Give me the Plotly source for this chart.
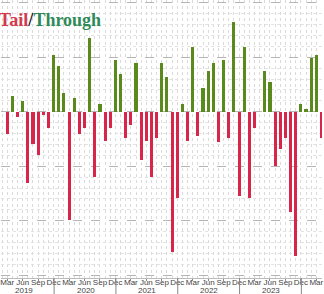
import plotly.graph_objects as go

# Monthly auction tail(-)/through(+) values, Mar 2019 .. Apr 2024
months = ["Mar 2019","Apr 2019","May 2019","Jun 2019","Jul 2019","Aug 2019","Sep 2019","Oct 2019","Nov 2019","Dec 2019",
          "Jan 2020","Feb 2020","Mar 2020","Apr 2020","May 2020","Jun 2020","Jul 2020","Aug 2020","Sep 2020","Oct 2020","Nov 2020","Dec 2020",
          "Jan 2021","Feb 2021","Mar 2021","Apr 2021","May 2021","Jun 2021","Jul 2021","Aug 2021","Sep 2021","Oct 2021","Nov 2021","Dec 2021",
          "Jan 2022","Feb 2022","Mar 2022","Apr 2022","May 2022","Jun 2022","Jul 2022","Aug 2022","Sep 2022","Oct 2022","Nov 2022","Dec 2022",
          "Jan 2023","Feb 2023","Mar 2023","Apr 2023","May 2023","Jun 2023","Jul 2023","Aug 2023","Sep 2023","Oct 2023","Nov 2023","Dec 2023",
          "Jan 2024","Feb 2024","Mar 2024","Apr 2024"]
values = [-0.40, 0.29, -0.09, 0.20, -1.30, -0.59, -0.79, -0.06, -0.29, 1.04,
          0.84, 0.35, -1.99, 0.25, -0.40, -0.29, 1.35, -1.19, 0.14, -0.54, -0.29, 0.95,
          0.70, -0.49, -0.24, 0.90, -0.89, -0.54, -1.19, -0.49, 0.90, 0.64, -2.58, -1.59,
          0.14, -0.54, 1.19, -0.44, 0.44, 0.75, 0.90, -0.55, 0.95, -0.49, 1.65, -1.54,
          1.19, -1.59, -0.29, 0.0, 0.75, 0.55, -0.99, -0.69, -0.49, -1.83, -2.64, 0.14,
          0.05, 0.99, 1.05, -0.49]
years = ["2019", "2020", "2021", "2022", "2023"]

idx = list(range(len(months)))
tick_idx = [i for i, m in enumerate(months) if m.split()[0] in ("Mar", "Jun", "Sep", "Dec")]
tick_txt = [months[i].split()[0] for i in tick_idx]
dec_idx = [i for i, m in enumerate(months) if m.startswith("Dec")]
jun_idx = [i for i, m in enumerate(months) if m.startswith("Jun")]

GREEN = "#5a8a1c"
RED = "#d8264a"
colors = [GREEN if v >= 0 else RED for v in values]

fig = go.Figure(go.Bar(x=idx, y=values, marker_color=colors, marker_line_width=0, width=0.6))

shapes = []
for d in dec_idx:
    shapes.append(dict(type="line", xref="x", yref="paper", x0=d + 0.1, x1=d + 0.1, y0=0, y1=-0.06,
                       line=dict(color="#888888", width=1)))

annotations = [dict(xref="paper", yref="paper", x=0, y=1, xanchor="left", yanchor="top", xshift=-4, yshift=-8,
                    showarrow=False,
                    text="<b><span style='color:#d23a4e'>Tail</span><span style='color:#111111'>/</span>"
                         "<span style='color:#2f8a5a'>Through</span></b>",
                    font=dict(family="Liberation Serif", size=18))]
for y, j in zip(years, jun_idx):
    annotations.append(dict(xref="x", yref="paper", x=j + 0.2, y=0, yanchor="middle", yshift=-12,
                            showarrow=False,
                            text=y, font=dict(family="Liberation Sans", size=8, color="#444444")))

fig.update_layout(
    width=324, height=294,
    margin=dict(l=0, r=0, t=0, b=16),
    paper_bgcolor="white", plot_bgcolor="white",
    showlegend=False, bargap=0,
    shapes=shapes, annotations=annotations,
    xaxis=dict(range=[-1.21, 61.1], tickmode="array", tickvals=tick_idx, ticktext=tick_txt,
               ticks="outside", ticklen=2, tickcolor="#888888", tickangle=0, ticklabelstandoff=-6,
               ticklabeloverflow="allow",
               tickfont=dict(family="Liberation Sans", size=8, color="#444444"),
               showgrid=False, zeroline=False, showline=True, linecolor="#bbbbbb",
               minor=dict(tickmode="linear", tick0=0, dtick=1, showgrid=True,
                          gridcolor="#dadada", griddash="dot", gridwidth=1)),
    yaxis=dict(range=[-3.05, 2.05], tickmode="linear", tick0=0, dtick=1, showticklabels=False,
               showgrid=True, gridcolor="#b5b5b5", griddash="dash", gridwidth=1, zeroline=False,
               minor=dict(tickmode="linear", tick0=0, dtick=0.2, showgrid=True,
                          gridcolor="#e2e2e2", griddash="dot", gridwidth=1)),
)

fig.write_html("out.html")
